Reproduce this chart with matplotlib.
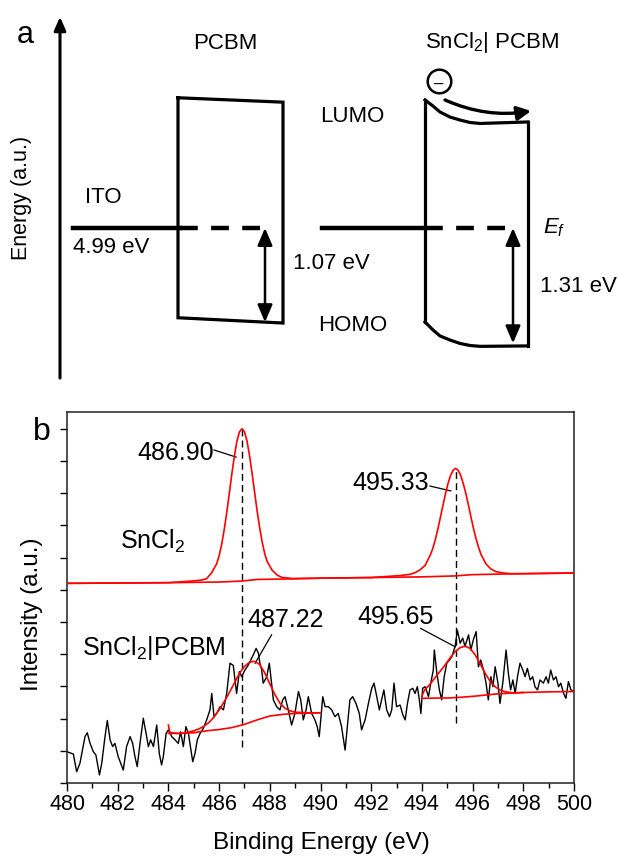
import matplotlib
matplotlib.use("Agg")
import matplotlib.pyplot as plt

plt.rcParams['font.family'] = ['Liberation Sans', 'DejaVu Sans']
plt.rcParams['mathtext.fontset'] = 'custom'
plt.rcParams['mathtext.rm'] = 'Liberation Sans'
plt.rcParams['mathtext.it'] = 'Liberation Sans:italic'

# ---------------- panel a: energy levels (eV, relative to Ef) ----------------
gap_pcbm = 1.07          # Ef -> HOMO, PCBM
gap_sncl = 1.31          # Ef -> HOMO, SnCl2|PCBM
lumo_pcbm = (1.48, 1.43)  # left / right end of PCBM LUMO edge
homo_pcbm = (-1.02, -1.08)
# band bending at the SnCl2|PCBM interface (offset from interface, level)
bend_dx = [0, 8, 15, 25, 35, 45, 55, 103]
bend_lumo = [1.455, 1.386, 1.318, 1.261, 1.227, 1.199, 1.188, 1.205]
bend_homo = [-1.068, -1.159, -1.227, -1.273, -1.312, -1.335, -1.345, -1.340]

# ---------------- panel b: XPS Sn 3d ----------------
sncl_x = [480.0, 482.0, 484.0, 484.9, 485.3, 485.5, 485.7, 485.9, 486.0, 486.1,
          486.2, 486.3, 486.4, 486.5, 486.6, 486.7, 486.8, 486.9, 487.0, 487.1,
          487.2, 487.3, 487.4, 487.5, 487.6, 487.7, 487.8, 487.9, 488.1, 488.3,
          488.5, 488.9, 490.0, 492.0, 493.13, 493.53, 493.73, 493.93, 494.13,
          494.33, 494.43, 494.53, 494.63, 494.73, 494.83, 494.93, 495.03, 495.13,
          495.23, 495.33, 495.43, 495.53, 495.63, 495.73, 495.83, 495.93, 496.03,
          496.13, 496.23, 496.33, 496.53, 496.73, 496.93, 497.23, 497.53, 498.0, 500.0]
sncl_y = [6.20, 6.21, 6.22, 6.27, 6.30, 6.34, 6.52, 6.80, 7.05, 7.40,
          7.86, 8.39, 8.98, 9.58, 10.14, 10.60, 10.90, 11.00, 10.91, 10.62,
          10.17, 9.62, 9.03, 8.45, 7.93, 7.48, 7.12, 6.87, 6.60, 6.45,
          6.38, 6.35, 6.36, 6.38, 6.44, 6.48, 6.53, 6.62, 6.76,
          7.08, 7.28, 7.56, 7.89, 8.25, 8.62, 8.98, 9.30, 9.55,
          9.71, 9.77, 9.71, 9.55, 9.30, 9.00, 8.65, 8.28, 7.92,
          7.60, 7.33, 7.10, 6.80, 6.64, 6.56, 6.52, 6.50, 6.50, 6.52]
sncl_bg_x = [480.0, 484.0, 486.0, 486.9, 487.5, 489.0, 490.0, 492.0, 494.0, 495.3, 496.0, 498.0, 500.0]
sncl_bg_y = [6.20, 6.22, 6.24, 6.27, 6.32, 6.34, 6.36, 6.38, 6.40, 6.43, 6.47, 6.50, 6.52]

pcbm_x = [480.00, 480.25, 480.38, 480.51, 480.71, 480.80, 480.91, 481.04, 481.14, 481.28,
          481.37, 481.50, 481.59, 481.70, 481.80, 481.89, 482.02, 482.22, 482.35, 482.49,
          482.59, 482.68, 482.77, 482.88, 483.01, 483.12, 483.21, 483.30, 483.41, 483.54,
          483.64, 483.73, 483.80, 483.91, 484.00, 484.13, 484.26, 484.39, 484.48, 484.59,
          484.69, 484.79, 484.96, 485.05, 485.14, 485.25, 485.38, 485.51, 485.64, 485.71,
          485.80, 485.90, 486.04, 486.17, 486.30, 486.36, 486.43, 486.56, 486.69, 486.80,
          486.89, 487.02, 487.15, 487.25, 487.35, 487.46, 487.55, 487.61, 487.68, 487.74,
          487.88, 487.98, 488.07, 488.14, 488.27, 488.40, 488.51, 488.60, 488.73, 488.86,
          488.99, 489.13, 489.22, 489.32, 489.43, 489.52, 489.65, 489.78, 489.87, 489.95,
          490.09, 490.18, 490.31, 490.44, 490.57, 490.70, 490.83, 490.97, 491.06, 491.16,
          491.27, 491.40, 491.53, 491.62, 491.76, 491.89, 492.02, 492.11, 492.22, 492.32,
          492.41, 492.50, 492.61, 492.72, 492.81, 492.90, 493.00, 493.14, 493.25, 493.34,
          493.43, 493.53, 493.64, 493.73, 493.82, 493.90, 493.96, 494.03, 494.13, 494.26,
          494.35, 494.45, 494.49, 494.59, 494.69, 494.78, 494.88, 494.98, 495.09, 495.18,
          495.31, 495.40, 495.51, 495.61, 495.70, 495.84, 495.93, 496.03, 496.14, 496.23,
          496.32, 496.43, 496.53, 496.62, 496.72, 496.80, 496.89, 497.00, 497.08, 497.19,
          497.32, 497.41, 497.50, 497.59, 497.68, 497.77, 497.87, 497.98, 498.07, 498.16,
          498.27, 498.37, 498.46, 498.56, 498.66, 498.79, 498.90, 498.99, 499.08, 499.19,
          499.29, 499.39, 499.48, 499.59, 499.68, 499.78, 499.88, 499.99]
pcbm_y = [0.97, 0.90, 0.35, 0.61, 1.44, 1.56, 1.23, 0.97, 0.87, 0.25,
          0.61, 1.44, 1.94, 1.34, 1.13, 1.23, 0.82, 0.40, 1.13, 1.44,
          1.23, 0.82, 0.51, 1.23, 2.01, 1.54, 1.13, 1.34, 1.13, 1.80,
          0.92, 0.56, 0.82, 1.54, 1.65, 1.44, 1.34, 1.23, 1.59, 1.13,
          1.75, 1.54, 0.66, 0.92, 1.34, 1.54, 1.70, 1.96, 2.27, 2.78,
          2.06, 2.16, 2.37, 2.27, 2.78, 3.20, 3.72, 3.65, 2.78, 3.46,
          3.30, 3.51, 3.66, 3.82, 3.98, 4.18, 4.03, 3.72, 3.51, 3.10,
          3.30, 3.72, 3.10, 2.58, 2.37, 2.27, 2.58, 2.68, 2.27, 1.80,
          2.16, 2.84, 2.58, 1.96, 2.27, 2.68, 2.16, 1.96, 1.75, 1.44,
          2.68, 2.37, 2.37, 2.27, 2.06, 2.16, 1.75, 1.02, 1.75, 2.58,
          2.68, 2.47, 2.16, 1.65, 1.96, 2.47, 2.94, 3.10, 2.68, 2.27,
          2.58, 2.89, 2.27, 2.06, 2.27, 3.10, 2.37, 2.42, 2.11, 1.96,
          2.47, 2.89, 2.94, 2.78, 2.99, 2.58, 2.16, 2.94, 2.99, 2.68,
          3.10, 3.51, 4.13, 3.41, 2.89, 2.58, 3.30, 3.72, 3.82, 3.92,
          4.24, 4.75, 4.34, 4.50, 4.24, 4.60, 4.13, 4.45, 4.70, 3.61,
          3.82, 3.51, 3.10, 2.58, 3.30, 2.99, 3.61, 3.10, 2.47, 3.10,
          4.13, 3.41, 2.89, 3.20, 2.78, 3.30, 3.72, 3.51, 3.30, 3.56,
          3.20, 3.30, 2.99, 2.89, 3.20, 3.10, 3.30, 3.10, 3.51, 3.20,
          3.30, 2.99, 3.10, 2.78, 2.63, 3.15, 2.89, 2.84]

fit1_x = [484.0, 484.05, 484.2, 484.4, 484.6, 484.8, 485.0, 485.2, 485.4, 485.6, 485.8,
          486.0, 486.2, 486.4, 486.6, 486.8, 487.0, 487.2, 487.4, 487.6, 487.8, 488.0,
          488.2, 488.4, 488.6, 488.8, 489.0, 489.5, 490.0]
fit1_y = [1.80, 1.58, 1.55, 1.54, 1.55, 1.58, 1.62, 1.68, 1.76, 1.88, 2.05,
          2.27, 2.52, 2.80, 3.10, 3.40, 3.62, 3.75, 3.78, 3.68, 3.42, 3.08,
          2.75, 2.48, 2.32, 2.24, 2.20, 2.18, 2.18]
bg1_x = [484.0, 484.5, 485.0, 485.5, 486.0, 486.5, 487.0, 487.5, 488.0, 488.5, 489.0, 490.0]
bg1_y = [1.54, 1.54, 1.56, 1.62, 1.66, 1.72, 1.82, 1.96, 2.08, 2.13, 2.16, 2.18]
fit2_x = [494.0, 494.1, 494.3, 494.5, 494.7, 494.9, 495.1, 495.3, 495.5, 495.7, 495.9,
          496.1, 496.3, 496.5, 496.7, 496.9, 497.1, 497.3, 497.6, 498.0]
fit2_y = [2.70, 2.88, 3.05, 3.25, 3.45, 3.65, 3.87, 4.07, 4.20, 4.25, 4.18,
          3.98, 3.70, 3.40, 3.15, 2.98, 2.88, 2.83, 2.80, 2.81]
bg2_x = [494.0, 495.0, 495.5, 496.0, 496.5, 497.0, 497.5, 498.0, 499.0, 500.0]
bg2_y = [2.63, 2.64, 2.66, 2.69, 2.73, 2.77, 2.79, 2.81, 2.83, 2.84]

peak_pos = [486.90, 495.33]
peak_top = [11.00, 9.77]
peak_low = [1.12, 1.86]

W, H = 619, 858
fig = plt.figure(figsize=(W / 100, H / 100), dpi=100)

# ================= panel a =================
axa = fig.add_axes([0, 1 - 390 / H, 1, 390 / H])
axa.set_xlim(0, W)
axa.set_ylim(-1.841, 2.591)
axa.axis('off')

axa.annotate('', xy=(60, 2.40), xytext=(60, -1.705),
             arrowprops=dict(arrowstyle='-|>,head_length=0.8,head_width=0.35',
                             lw=2.2, color='k', shrinkA=0, shrinkB=0), annotation_clip=False)
axa.text(25, 2.19, 'a', fontsize=22, ha='center', va='center')
axa.text(22, 0.34, 'Energy (a.u.)', fontsize=15.5, rotation=90, ha='center', va='center')

# PCBM block
axa.plot([178, 178, 283, 283, 178], [lumo_pcbm[0], homo_pcbm[0], homo_pcbm[1], lumo_pcbm[1], lumo_pcbm[0]],
         color='k', lw=2.3, solid_joinstyle='miter')
axa.plot([73, 180], [0, 0], color='k', lw=3.2)
axa.plot([180, 270], [0, 0], color='k', lw=3.2, ls=(0, (4, 3)))
axa.annotate('', xy=(265, -gap_pcbm), xytext=(265, 0),
             arrowprops=dict(arrowstyle='<|-|>,head_length=0.7,head_width=0.3', lw=1.8,
                             color='k', shrinkA=0, shrinkB=0, mutation_scale=15))
axa.text(225, 2.10, 'PCBM', fontsize=16, ha='center', va='center')
axa.text(85, 0.35, 'ITO', fontsize=16, ha='left', va='center')
axa.text(73, -0.227, '4.99 eV', fontsize=16, ha='left', va='center')
axa.text(293, -0.40, '1.07 eV', fontsize=16, ha='left', va='center')
axa.text(320, 1.27, 'LUMO', fontsize=16, ha='left', va='center')
axa.text(318, -1.11, 'HOMO', fontsize=16, ha='left', va='center')

# SnCl2|PCBM block with band bending
x0 = 425
top_x = [x0 + d for d in bend_dx]
axa.plot(top_x, bend_lumo, color='k', lw=2.3)
axa.plot(top_x, bend_homo, color='k', lw=2.3)
axa.plot([x0, x0], [bend_lumo[0], bend_homo[0]], color='k', lw=2.3)
axa.plot([top_x[-1], top_x[-1]], [bend_lumo[-1], bend_homo[-1]], color='k', lw=2.3)
axa.plot([322, x0], [0, 0], color='k', lw=3.2)
axa.plot([x0, 510], [0, 0], color='k', lw=3.2, ls=(0, (4, 3)))
axa.annotate('', xy=(513, -gap_sncl), xytext=(513, 0),
             arrowprops=dict(arrowstyle='<|-|>,head_length=0.7,head_width=0.3', lw=1.8,
                             color='k', shrinkA=0, shrinkB=0, mutation_scale=15))
axa.text(x0, 2.05, r'SnCl$_2$| PCBM', fontsize=16, ha='left', va='baseline')
axa.text(543, 0.0, r'$E_f$', fontsize=16, ha='left', va='center')
axa.text(540, -0.67, '1.31 eV', fontsize=16, ha='left', va='center')

# electron and its drift
axa.plot([439], [1.67], 'o', ms=17, mfc='white', mec='k', mew=1.8)
axa.text(439, 1.63, '–', fontsize=12, ha='center', va='center')
axa.annotate('', xy=(531, 1.33), xytext=(445, 1.455),
             arrowprops=dict(arrowstyle='-|>,head_length=0.55,head_width=0.28', lw=2.4,
                             color='k', shrinkA=0, shrinkB=0, mutation_scale=15,
                             connectionstyle='arc3,rad=0.15'))

# ================= panel b =================
ax = fig.add_axes([67 / W, 1 - 783 / H, 507 / W, 371 / H])
ax.plot(sncl_x, sncl_y, color='red', lw=1.2, zorder=3)
ax.plot(sncl_bg_x, sncl_bg_y, color='red', lw=1.2, zorder=3)
ax.plot(pcbm_x, pcbm_y, color='k', lw=1.0, zorder=2)
ax.plot(fit1_x, fit1_y, color='red', lw=1.2, zorder=3)
ax.plot(bg1_x, bg1_y, color='red', lw=1.2, zorder=3)
ax.plot(fit2_x, fit2_y, color='red', lw=1.2, zorder=3)
ax.plot(bg2_x, bg2_y, color='red', lw=1.2, zorder=3)
ax.vlines(peak_pos, peak_low, peak_top, colors='k', linestyles=(0, (5, 3)), lw=1.0, zorder=1)

# peak labels with leader lines
ax.plot([485.8, 486.67], [10.34, 10.12], color='k', lw=0.9)
ax.text(485.8, 10.26, '486.90', fontsize=18, ha='right', va='center')
ax.plot([494.32, 495.14], [9.22, 9.07], color='k', lw=0.9)
ax.text(494.27, 9.33, '495.33', fontsize=18, ha='right', va='center')
ax.plot([488.07, 487.42], [4.60, 3.72], color='k', lw=0.9)
ax.text(488.64, 5.06, '487.22', fontsize=18, ha='center', va='center')
ax.plot([493.95, 495.31], [4.80, 4.23], color='k', lw=0.9)
ax.text(492.98, 5.16, '495.65', fontsize=18, ha='center', va='center')
ax.text(482.09, 7.27, r'SnCl$_2$', fontsize=18, ha='left', va='baseline')
ax.text(480.59, 3.98, r'SnCl$_2$|PCBM', fontsize=18, ha='left', va='baseline')

ax.set_xlim(480, 500)
ax.set_ylim(0, 11.52)
ax.set_xticks(range(480, 501, 2))
ax.set_xticks(range(480, 501, 1), minor=True)
ax.set_yticks(range(0, 12))
ax.set_yticklabels([])
ax.tick_params(axis='x', which='major', direction='out', length=6, width=1, labelsize=15.5, pad=2)
ax.tick_params(axis='x', which='minor', direction='out', length=3.5, width=1)
ax.tick_params(axis='y', which='major', direction='out', length=5, width=1)
for s in ax.spines.values():
    s.set_linewidth(1.1)
    s.set_color('#222222')

fig.text(42 / W, 1 - 432 / H, 'b', fontsize=23, ha='center', va='center')
fig.text(32 / W, 1 - 614 / H, 'Intensity (a.u.)', fontsize=17.5, rotation=90, ha='center', va='center')
fig.text(321 / W, 1 - 843 / H, 'Binding Energy (eV)', fontsize=17.5, ha='center', va='center')

fig.savefig('out.png', dpi=100)
